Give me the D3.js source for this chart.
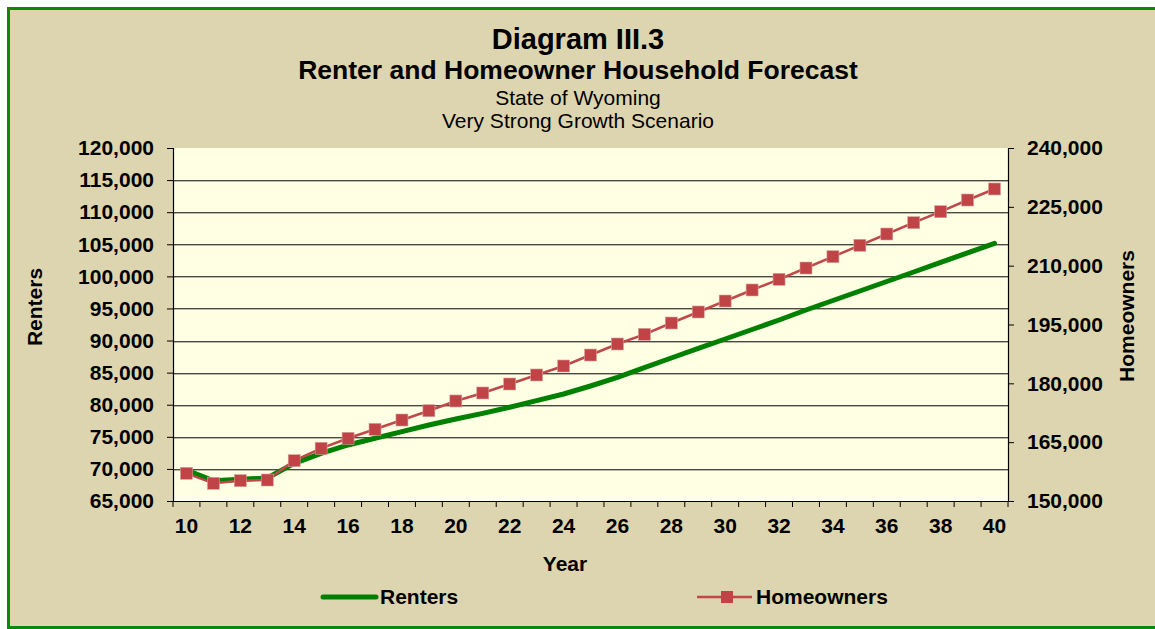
<!DOCTYPE html>
<html>
<head>
<meta charset="utf-8">
<script src="https://cdn.jsdelivr.net/npm/d3@7"></script>
<style>
  html, body { margin: 0; padding: 0; background: #fff; }
  svg { display: block; font-family: "Liberation Sans", Arial, sans-serif; }
</style>
</head>
<body>
<div id="chart"></div>
<script>
// years shown on the category axis (2010..2040, written as 10..40)
var years = d3.range(10, 41);
var yearLabels = years.filter(function (d) { return d % 2 === 0; });

// renters, left axis
var renters = [69830, 68160, 68380, 68580, 70870, 72430, 73730, 74770, 75800, 76840,
               77780, 78660, 79600, 80630, 81670, 82920, 84270, 85770, 87280, 88790,
               90240, 91720, 93200, 94760, 96240, 97720, 99200, 100680, 102190, 103670, 105150];

// homeowners, right axis
var homeowners = [157060, 154510, 155180, 155350, 160280, 163440, 165990, 168280, 170650, 173020,
                  175500, 177540, 179830, 182130, 184420, 187220, 190030, 192500, 195380, 198190,
                  200990, 203800, 206520, 209400, 212290, 215190, 218070, 220960, 223760, 226740, 229550];

var leftTicks = d3.range(65000, 120001, 5000);
var rightTicks = d3.range(150000, 240001, 15000);

var W = 1155, H = 629;
var margin = {top: 148, right: 147, bottom: 128, left: 173};
var width = W - margin.left - margin.right,
    height = H - margin.top - margin.bottom;
var FS = 21; // label font size

var svg = d3.select("#chart").append("svg")
    .attr("width", W)
    .attr("height", H);

// page background + green frame
svg.append("rect").attr("width", W).attr("height", H).attr("fill", "#fff");
svg.append("rect")
    .attr("x", 8.5).attr("y", 8.5)
    .attr("width", W + 20).attr("height", H - 10)
    .attr("fill", "#DDD5AF")
    .attr("stroke", "#0A8A0A")
    .attr("stroke-width", 3);

// titles
var titles = [
    {t: "Diagram III.3", y: 49, size: 29, w: "bold"},
    {t: "Renter and Homeowner Household Forecast", y: 79, size: 26.5, w: "bold"},
    {t: "State of Wyoming", y: 105, size: 21, w: "normal"},
    {t: "Very Strong Growth Scenario", y: 128, size: 21, w: "normal"}
];
svg.selectAll("text.title").data(titles).enter().append("text")
    .attr("class", "title")
    .attr("x", 578).attr("y", function (d) { return d.y; })
    .attr("text-anchor", "middle")
    .attr("font-size", function (d) { return d.size; })
    .attr("font-weight", function (d) { return d.w; })
    .attr("fill", "#000")
    .text(function (d) { return d.t; });

var g = svg.append("g")
    .attr("transform", "translate(" + margin.left + "," + margin.top + ")");

var x = d3.scaleBand().domain(years).range([0, width]);
var yL = d3.scaleLinear().domain([65000, 120000]).range([height, 0]);
var yR = d3.scaleLinear().domain([150000, 240000]).range([height, 0]);

g.append("rect").attr("width", width).attr("height", height).attr("fill", "#FFFFE3");

// gridlines (dark with light shadow below)
var grid = leftTicks.filter(function (d) { return d > 65000 && d < 120000; });
g.selectAll("line.gs").data(grid).enter().append("line")
    .attr("x1", 0).attr("x2", width)
    .attr("y1", function (d) { return Math.round(yL(d)) + 1.5; })
    .attr("y2", function (d) { return Math.round(yL(d)) + 1.5; })
    .attr("stroke", "#B8B8A0").attr("stroke-width", 1);
g.selectAll("line.grid").data(grid).enter().append("line")
    .attr("x1", 0).attr("x2", width)
    .attr("y1", function (d) { return Math.round(yL(d)) + 0.5; })
    .attr("y2", function (d) { return Math.round(yL(d)) + 0.5; })
    .attr("stroke", "#4A4A44").attr("stroke-width", 1.2);

var fmt = d3.format(",");

// left axis
var axL = g.append("g").call(d3.axisLeft(yL).tickValues(leftTicks).tickSize(6).tickPadding(13).tickFormat(fmt));
// right axis
var axR = g.append("g").attr("transform", "translate(" + width + ",0)")
    .call(d3.axisRight(yR).tickValues(rightTicks).tickSize(6).tickPadding(13).tickFormat(fmt));
// bottom axis: ticks between categories
var axB = g.append("g").attr("transform", "translate(0," + height + ")")
    .call(d3.axisBottom(x).tickValues(yearLabels).tickSize(0).tickPadding(17));
var bounds = years.map(function (d) { return x(d); }).concat([width]);
axB.selectAll("line.tb").data(bounds).enter().append("line")
    .attr("x1", function (d) { return d; }).attr("x2", function (d) { return d; })
    .attr("y1", 0).attr("y2", 6)
    .attr("stroke", "#000");

[axL, axR, axB].forEach(function (a) {
    a.select(".domain").attr("stroke", "#000").attr("stroke-width", 1.2);
    a.selectAll(".tick line").attr("stroke", "#000");
    a.selectAll("text")
        .attr("font-family", "Liberation Sans, Arial, sans-serif")
        .attr("font-size", FS).attr("font-weight", "bold").attr("fill", "#000");
});

// axis titles
svg.append("text").attr("transform", "translate(42,307) rotate(-90)")
    .attr("text-anchor", "middle").attr("font-size", FS).attr("font-weight", "bold").text("Renters");
svg.append("text").attr("transform", "translate(1134,316) rotate(-90)")
    .attr("text-anchor", "middle").attr("font-size", FS).attr("font-weight", "bold").text("Homeowners");
svg.append("text").attr("x", 565).attr("y", 571)
    .attr("text-anchor", "middle").attr("font-size", FS).attr("font-weight", "bold").text("Year");

var cx = function (d, i) { return x(years[i]) + x.bandwidth() / 2; };

// renters line
g.append("path").datum(renters)
    .attr("fill", "none").attr("stroke", "#008000").attr("stroke-width", 5)
    .attr("stroke-linecap", "round").attr("stroke-linejoin", "round")
    .attr("d", d3.line().x(cx).y(function (d) { return yL(d); }));

// homeowners line + markers
g.append("path").datum(homeowners)
    .attr("fill", "none").attr("stroke", "#C0474A").attr("stroke-width", 2.5)
    .attr("d", d3.line().x(cx).y(function (d) { return yR(d); }));
var ms = 12;
g.selectAll("rect.mk").data(homeowners).enter().append("rect")
    .attr("class", "mk")
    .attr("x", function (d, i) { return cx(d, i) - ms / 2; })
    .attr("y", function (d) { return yR(d) - ms / 2; })
    .attr("width", ms).attr("height", ms)
    .attr("fill", "#C04446").attr("stroke", "#D8A0A0").attr("stroke-width", 0.6);

// legend
var lg = svg.append("g");
lg.append("line").attr("x1", 323).attr("x2", 376).attr("y1", 597).attr("y2", 597)
    .attr("stroke", "#008000").attr("stroke-width", 5).attr("stroke-linecap", "round");
lg.append("text").attr("x", 380).attr("y", 604).attr("font-size", FS).attr("font-weight", "bold").text("Renters");
lg.append("line").attr("x1", 697).attr("x2", 752).attr("y1", 597).attr("y2", 597)
    .attr("stroke", "#C0474A").attr("stroke-width", 2.5);
lg.append("rect").attr("x", 727 - ms / 2).attr("y", 597 - ms / 2).attr("width", ms).attr("height", ms)
    .attr("fill", "#C04446");
lg.append("text").attr("x", 756).attr("y", 604).attr("font-size", FS).attr("font-weight", "bold").text("Homeowners");
</script>
</body>
</html>
